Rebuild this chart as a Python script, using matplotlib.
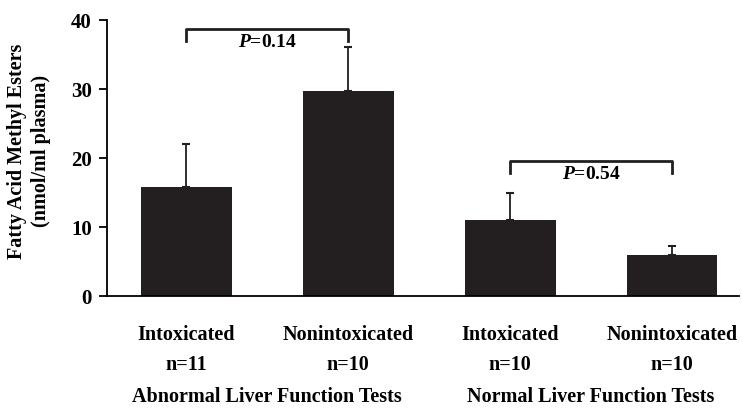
import numpy as np
import matplotlib.pyplot as plt

# Datos
grupos = ['Intoxicated\nn=11', 'Nonintoxicated\nn=10', 'Intoxicated\nn=10', 'Nonintoxicated\nn=10']
medias = [15.8, 29.7, 11.0, 5.9]
errores = [6.2, 6.4, 4.0, 1.4]
grupos_lft = ['Abnormal Liver Function Tests', 'Normal Liver Function Tests']
p_valores = ['0.14', '0.54']
altura_corchete = [38.7, 19.6]

plt.rcParams['font.family'] = ['Liberation Serif', 'DejaVu Serif']
plt.rcParams['font.weight'] = 'bold'
plt.rcParams['mathtext.fontset'] = 'custom'
plt.rcParams['mathtext.it'] = 'Liberation Serif:italic:bold'
plt.rcParams['mathtext.rm'] = 'Liberation Serif:bold'

fig = plt.figure(figsize=(7.43, 4.08), dpi=100)
ax = fig.add_axes([0.144, 0.2745, 0.85, 0.676])

x = np.arange(len(medias))
color = '#231f20'
ax.bar(x, medias, width=0.56, color=color, zorder=2)
ax.errorbar(x, medias, yerr=[np.zeros(4), errores], fmt='none', ecolor=color,
            elinewidth=1.3, capsize=3, capthick=1.5, zorder=1)

# Corchetes con el valor P
for i, (p, h) in enumerate(zip(p_valores, altura_corchete)):
    x0, x1 = 2 * i, 2 * i + 1
    ax.plot([x0, x0, x1, x1], [h - 1.7, h, h, h - 1.7], color=color,
            lw=2, clip_on=False)
    ax.text((x0 + x1) / 2, h - 0.7, r'$P$=' + p, ha='center', va='top',
            fontsize=14, fontweight='bold')

ax.set_xlim(-0.49, 3.41)
ax.set_ylim(0, 40)
ax.set_yticks([0, 10, 20, 30, 40])
ax.set_xticks([])
ax.spines['top'].set_visible(False)
ax.spines['right'].set_visible(False)
ax.spines['left'].set_linewidth(1.3)
ax.spines['bottom'].set_linewidth(1.3)
ax.tick_params(axis='y', direction='out', length=6, width=1.3, labelsize=15, pad=5)

# Etiquetas de categorias
tr = ax.get_xaxis_transform()
for xi, g in zip(x, grupos):
    ax.text(xi, -0.196, g, ha='center', va='center', fontsize=14.5,
            fontweight='bold', linespacing=1.66, transform=tr)
for i, g in enumerate(grupos_lft):
    ax.text(2 * i + 0.5, -0.366, g, ha='center', va='center', fontsize=14.5,
            fontweight='bold', transform=tr)

ax.set_ylabel('Fatty Acid Methyl Esters\n(nmol/ml plasma)', fontsize=14.5,
              fontweight='bold', linespacing=1.3)
ax.yaxis.set_label_coords(-0.088, 0.525)
fig.savefig('out.png', dpi=100)
